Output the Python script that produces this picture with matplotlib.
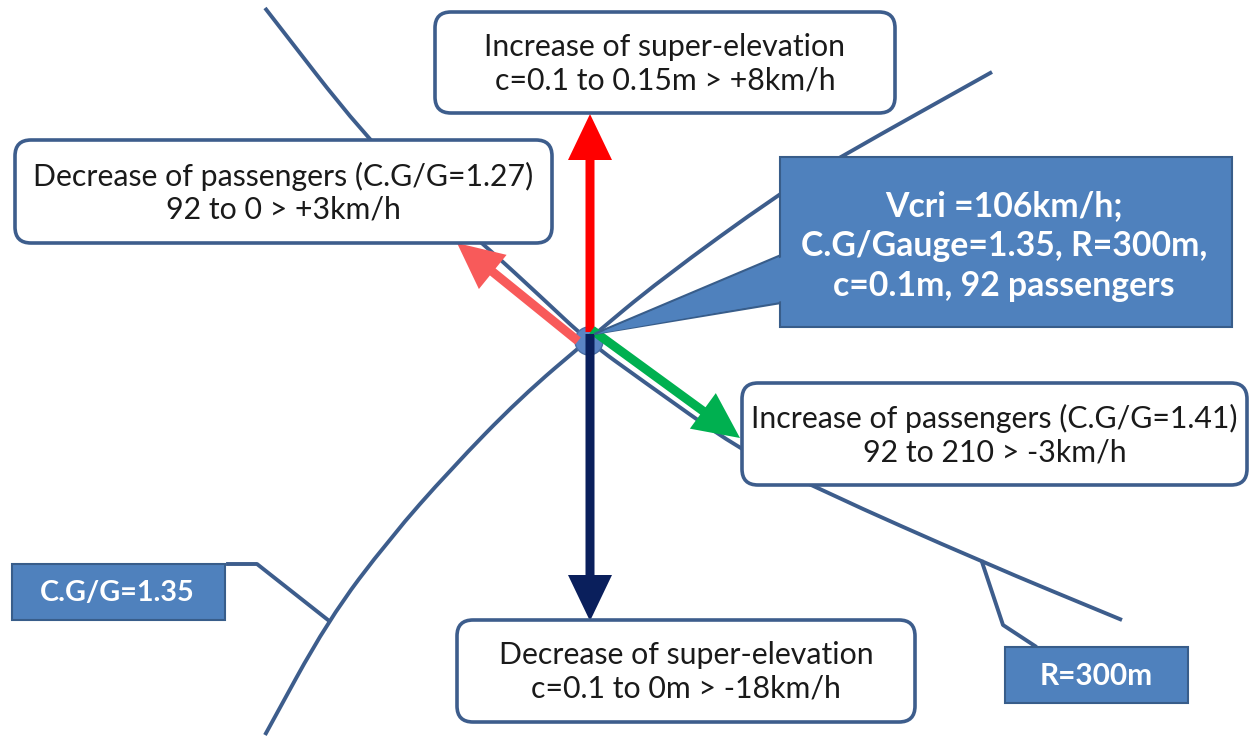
import matplotlib.pyplot as plt
from matplotlib.patches import FancyBboxPatch, FancyArrow, Polygon, Circle, Rectangle, PathPatch
from matplotlib.path import Path

plt.rcParams['font.family'] = ['Lato', 'DejaVu Sans']

# diagram geometry, in pixels of the 1257x737 picture (y grows downward)
dot_centre = (589, 341)

# two track curves
cg_curve_x = [265, 328, 390, 450, 520, 589, 660, 780, 840, 992]
cg_curve_y = [735, 620, 538, 470, 398, 339, 280, 193, 157, 72]
r_curve_x = [265, 365, 430, 490, 540, 589, 640, 740, 820, 982, 1122]
r_curve_y = [8, 137, 198, 250, 296, 342, 379, 450, 490, 562, 620]

# arrows: red (up), salmon (up-left), green (down-right), navy (down)
arrow_x0 = [590, 578, 592, 590]
arrow_y0 = [332, 341, 330, 334]
arrow_tip_x = [590, 457, 740, 590]
arrow_tip_y = [114, 243, 438, 621]
arrow_colors = ['#ff0000', '#f85a5a', '#00b050', '#0a1f5c']

# white rounded boxes: top, left, right, bottom + text
wbox_x0 = [435, 15, 742, 457]
wbox_y0 = [12, 140, 383, 620]
wbox_x1 = [895, 552, 1247, 915]
wbox_y1 = [113, 243, 485, 722]
wbox_text = [
    'Increase of super-elevation\nc=0.1 to 0.15m > +8km/h',
    'Decrease of passengers (C.G/G=1.27)\n92 to 0 > +3km/h',
    'Increase of passengers (C.G/G=1.41)\n92 to 210 > -3km/h',
    'Decrease of super-elevation\nc=0.1 to 0m > -18km/h',
]

main_text = 'Vcri =106km/h;\nC.G/Gauge=1.35, R=300m,\nc=0.1m, 92 passengers'
cg_label = 'C.G/G=1.35'
r_label = 'R=300m'

line_col = '#3d5d8c'
fill_col = '#4f81bd'
edge_col = '#385d8a'


def smooth_path(xs, ys):
    pts = list(zip(xs, ys))
    verts = [pts[0], ((pts[0][0] + pts[1][0]) / 2, (pts[0][1] + pts[1][1]) / 2)]
    codes = [Path.MOVETO, Path.LINETO]
    for i in range(1, len(pts) - 1):
        mid = ((pts[i][0] + pts[i + 1][0]) / 2, (pts[i][1] + pts[i + 1][1]) / 2)
        verts += [pts[i], mid]
        codes += [Path.CURVE3, Path.CURVE3]
    verts.append(pts[-1])
    codes.append(Path.LINETO)
    return Path(verts, codes)


fig = plt.figure(figsize=(12.57, 7.37), dpi=100)
ax = fig.add_axes([0, 0, 1, 1])
ax.set_xlim(0, 1257)
ax.set_ylim(737, 0)
ax.axis('off')

for xs, ys in [(cg_curve_x, cg_curve_y), (r_curve_x, r_curve_y)]:
    ax.add_patch(PathPatch(smooth_path(xs, ys), fill=False, ec=line_col, lw=2.8, zorder=1))

# connectors of the small labels
ax.plot([228, 257, 328], [564, 564, 620], color=line_col, lw=2.8, zorder=1)
ax.plot([982, 1003, 1035], [562, 625, 646], color=line_col, lw=2.8, zorder=1)

ax.add_patch(Circle(dot_centre, 14, fc='#5b84c4', ec='#4a6fa5', lw=1, zorder=2.5))

for x0, y0, tx, ty, c in zip(arrow_x0, arrow_y0, arrow_tip_x, arrow_tip_y, arrow_colors):
    ax.add_patch(FancyArrow(x0, y0, tx - x0, ty - y0,
                            width=9, head_width=44, head_length=46,
                            length_includes_head=True, fc=c, ec='none', zorder=3))

for x0, y0, x1, y1, t in zip(wbox_x0, wbox_y0, wbox_x1, wbox_y1, wbox_text):
    ax.add_patch(FancyBboxPatch((x0, y0), x1 - x0, y1 - y0,
                                boxstyle='round,pad=0,rounding_size=16',
                                fc='white', ec=line_col, lw=2.6, zorder=4))
    ax.text((x0 + x1) / 2, (y0 + y1) / 2 + 1, t, ha='center', va='center',
            fontsize=21.8, color='#1a1a1a', linespacing=1.22, zorder=5)

# main callout with wedge to the centre
ax.add_patch(Polygon([(781, 255), (594, 334), (781, 303)], closed=True,
                     fc=fill_col, ec=edge_col, lw=1.5, zorder=4))
ax.add_patch(Rectangle((780, 157), 452, 170, fc=fill_col, ec=edge_col, lw=1.5, zorder=4))
ax.add_patch(Polygon([(782, 257), (597, 334), (782, 301)], closed=True,
                     fc=fill_col, ec='none', zorder=4.5))
ax.text(1004, 246, main_text, ha='center', va='center', fontsize=24.3,
        fontweight='bold', color='white', linespacing=1.3, zorder=5)

ax.add_patch(Rectangle((12, 564), 213, 56, fc=fill_col, ec=edge_col, lw=1.5, zorder=4))
ax.text(117, 593, cg_label, ha='center', va='center', fontsize=20.7,
        fontweight='bold', color='white', zorder=5)
ax.add_patch(Rectangle((1005, 647), 183, 56, fc=fill_col, ec=edge_col, lw=1.5, zorder=4))
ax.text(1096, 676, r_label, ha='center', va='center', fontsize=21.5,
        fontweight='bold', color='white', zorder=5)

fig.savefig('out.png', dpi=100)
